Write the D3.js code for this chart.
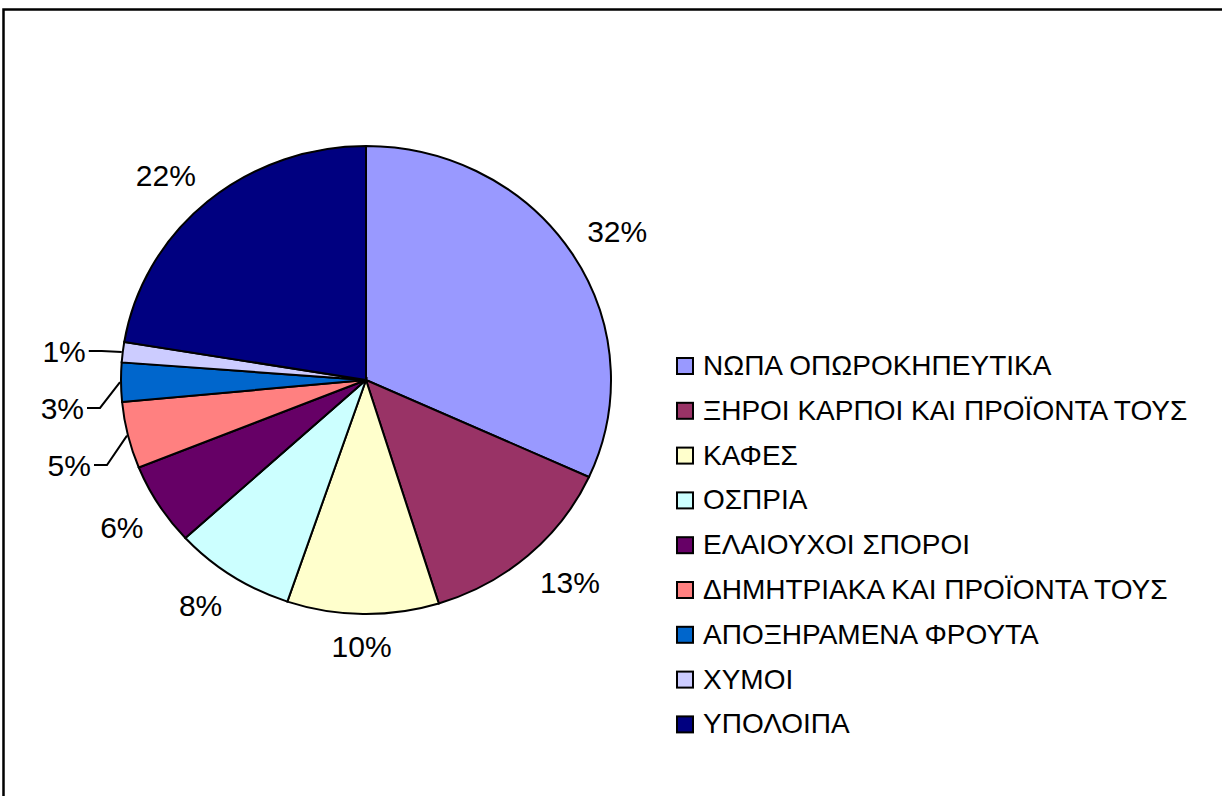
<!DOCTYPE html>
<html>
<head>
<meta charset="utf-8">
<script src="https://cdn.jsdelivr.net/npm/d3@7"></script>
<style>
  body { margin: 0; background: #fff; }
  text { font-family: "Liberation Sans", Arial, sans-serif; fill: #000; }
</style>
</head>
<body>
<div id="chart"></div>
<script>
const WIDTH = 1222;
const HEIGHT = 796;

// data
const categories = [
  "ΝΩΠΑ ΟΠΩΡΟΚΗΠΕΥΤΙΚΑ",
  "ΞΗΡΟΙ ΚΑΡΠΟΙ ΚΑΙ ΠΡΟΪΟΝΤΑ ΤΟΥΣ",
  "ΚΑΦΕΣ",
  "ΟΣΠΡΙΑ",
  "ΕΛΑΙΟΥΧΟΙ ΣΠΟΡΟΙ",
  "ΔΗΜΗΤΡΙΑΚΑ ΚΑΙ ΠΡΟΪΟΝΤΑ ΤΟΥΣ",
  "ΑΠΟΞΗΡΑΜΕΝΑ ΦΡΟΥΤΑ",
  "ΧΥΜΟΙ",
  "ΥΠΟΛΟΙΠΑ"
];
const values = [31.8, 13.4, 10.0, 8.0, 5.7, 4.6, 2.7, 1.4, 22.4];
const colors = ["#9999FF", "#993366", "#FFFFCC", "#CCFFFF", "#660066",
                "#FF8080", "#0066CC", "#CCCCFF", "#000080"];

function setup(){
    let svg = d3.select("#chart")
        .append("svg")
        .attr("width", WIDTH)
        .attr("height", HEIGHT);

    // chart frame
    svg.append("rect")
        .attr("x", 3.5).attr("y", 9.5)
        .attr("width", WIDTH + 50).attr("height", HEIGHT + 50)
        .style("fill", "none")
        .style("stroke", "#000")
        .style("stroke-width", 2.5);

    const cx = 366, cy = 380, rx = 245, ry = 234;
    const total = d3.sum(values);

    let pie = d3.pie().sort(null).value(d => d);
    let arcs = pie(values);
    let arc = d3.arc().innerRadius(0).outerRadius(rx);

    let g = svg.append("g")
        .attr("transform", `translate(${cx},${cy}) scale(1,${ry / rx})`);

    g.selectAll(".slice")
        .data(arcs)
        .enter()
        .append("path")
        .attr("class", "slice")
        .attr("d", arc)
        .style("fill", (d, i) => colors[i])
        .style("stroke", "#000")
        .style("stroke-width", 2)
        .attr("vector-effect", "non-scaling-stroke");

    // data labels
    let labels = svg.append("g");
    let pctText = d => Math.round(100 * d.value / total) + "%";

    // big slices: label box just outside the rim
    const gap = 18, halfH = 11;
    arcs.filter(d => d.value / total >= 0.05).forEach(d => {
        let a = (d.startAngle + d.endAngle) / 2;
        let s = Math.sin(a), c = Math.cos(a);
        let t = labels.append("text")
            .attr("text-anchor", "middle")
            .style("font-size", "30px")
            .text(pctText(d));
        let halfW = t.node().getComputedTextLength() / 2;
        let lx = cx + s * (rx + gap) + Math.sign(s) * halfW * Math.min(1, Math.abs(s) * 3);
        let ly = cy - c * (ry + gap + 3) - Math.sign(c) * halfH;
        t.attr("x", lx).attr("y", ly + 11);
    });

    // small slices on the left: pushed apart, with leader lines (top to bottom)
    let prevY = -Infinity;
    arcs.filter(d => d.value / total < 0.05).reverse().forEach(d => {
        let a = (d.startAngle + d.endAngle) / 2;
        let s = Math.sin(a), c = Math.cos(a);
        let ex = cx + s * (rx + 1), ey = cy - c * (ry + 1);
        let ly = cy - c * (ry + 10);
        if (ly < prevY + 57) ly = prevY + 57;
        prevY = ly;
        labels.append("text")
            .attr("x", ex - 36).attr("y", ly + 11)
            .attr("text-anchor", "end")
            .style("font-size", "30px")
            .text(pctText(d));
        labels.append("polyline")
            .attr("points", [[ex - 33, ly], [ex - 20, ly], [ex, ey]].join(" "))
            .style("fill", "none")
            .style("stroke", "#000")
            .style("stroke-width", 2);
    });

    // legend
    let legend = svg.append("g").attr("transform", "translate(676,358)");
    let rows = legend.selectAll(".row")
        .data(categories)
        .enter()
        .append("g")
        .attr("class", "row")
        .attr("transform", (d, i) => `translate(0,${i * 44.8})`);
    rows.append("rect")
        .attr("x", 1).attr("y", 0)
        .attr("width", 16).attr("height", 16)
        .style("fill", (d, i) => colors[i])
        .style("stroke", "#000")
        .style("stroke-width", 2);
    rows.append("text")
        .attr("x", 27).attr("y", 17)
        .style("font-size", "28px")
        .text(d => d);
}

window.addEventListener("load", setup);
</script>
</body>
</html>
